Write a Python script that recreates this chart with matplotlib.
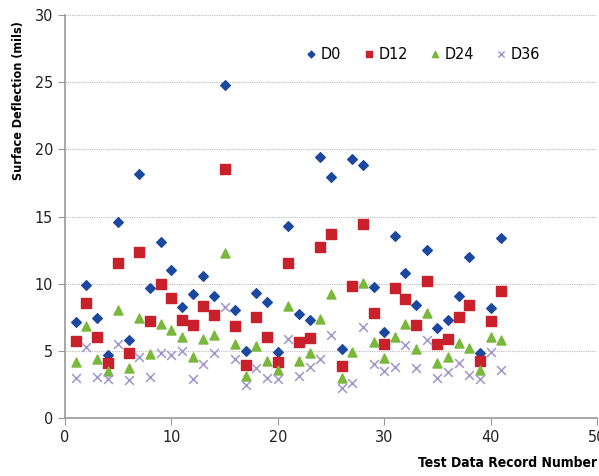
import numpy as np
from matplotlib import pyplot as plt

plt.rcParams['font.family'] = ['DejaVu Sans']
plt.rcParams['font.stretch'] = 'condensed'

records = list(range(1, 42))

d0 = [7.12, 9.90, 7.42, 4.69, 14.59, 5.83, 18.14, 9.70, 13.13, 10.99,
      8.24, 9.23, 10.60, 9.06, 24.76, 8.06, 4.96, 9.31, 8.64, 4.91,
      14.32, 7.74, 7.27, 19.45, 17.94, 5.16, 19.31, 18.81, 9.73, 6.40,
      13.57, 10.77, 8.41, 12.48, 6.67, 7.30, 9.08, 11.96, 4.86, 8.21,
      13.40]
d12 = [5.71, 8.59, 6.03, 4.09, 11.51, 4.84, 12.33, 7.25, 9.95, 8.91,
       7.30, 6.90, 8.36, 7.69, 18.54, 6.85, 3.95, 7.54, 6.05, 4.19,
       11.56, 5.68, 5.93, 12.70, 13.67, 3.90, 9.83, 14.47, 7.82, 5.53,
       9.65, 8.88, 6.90, 10.22, 5.53, 5.91, 7.54, 8.44, 4.22, 7.25,
       9.45]
d24 = [4.19, 6.82, 4.39, 3.47, 8.06, 3.72, 7.44, 4.79, 6.97, 6.55,
       6.05, 4.52, 5.86, 6.20, 12.31, 5.53, 3.10, 5.38, 4.27, 3.55,
       8.36, 4.24, 4.81, 7.34, 9.23, 3.00, 4.91, 10.05, 5.63, 4.44,
       6.05, 7.02, 5.16, 7.82, 4.12, 4.54, 5.61, 5.24, 3.55, 6.03,
       5.81]
d36 = [2.98, 5.26, 3.08, 2.88, 5.51, 2.80, 4.57, 3.08, 4.81, 4.69,
       4.99, 2.93, 4.02, 4.81, 8.26, 4.39, 2.46, 3.75, 2.98, 2.93,
       5.88, 3.10, 3.82, 4.42, 6.18, 2.26, 2.58, 6.77, 4.00, 3.47,
       3.82, 5.41, 3.72, 5.81, 2.98, 3.45, 4.07, 3.20, 2.90, 4.91,
       3.60]

fig = plt.figure(figsize=(5.99, 4.76), dpi=100)
ax = fig.add_axes([0.1085, 0.1218, 0.888, 0.8466])

ax.scatter(records, d0, marker="D", s=24, color="#1a48a0", label="D0", zorder=3)
ax.scatter(records, d12, marker="s", s=48, color="#c9202c", label="D12", zorder=3)
ax.scatter(records, d24, marker="^", s=42, color="#7ab83c", label="D24", zorder=3)
ax.scatter(records, d36, marker="x", s=40, color="#a096cc", linewidths=1.1,
           label="D36", zorder=3)

ax.set_xlim(0, 50)
ax.set_ylim(0, 30)
ax.set_xticks(range(0, 51, 10))
ax.set_yticks(range(0, 31, 5))
ax.yaxis.grid(True, linestyle=(0, (1, 1)), color="#bbbbbb", linewidth=0.8)
ax.set_axisbelow(True)

for s in ["top", "right"]:
    ax.spines[s].set_visible(False)
for s in ["left", "bottom"]:
    ax.spines[s].set_color("#999999")
    ax.spines[s].set_linewidth(1.2)
ax.tick_params(colors="#999999", labelcolor="#222222", labelsize=11.5, length=5)

ax.set_xlabel("Test Data Record Number", fontsize=10, fontweight="bold",
              loc="right", labelpad=8)
ax.set_ylabel("Surface Deflection (mils)", fontsize=9, fontweight="bold",
              loc="top", labelpad=7)
ax.yaxis.label.set_position((0, 0.985))

leg = ax.legend(ncol=4, frameon=False, loc="center", bbox_to_anchor=(0.669, 0.903),
                fontsize=11.5, handletextpad=0.0, columnspacing=1.1, scatterpoints=1,
                markerscale=0.7, handlelength=1.2)

fig.savefig("out.png", dpi=100)
